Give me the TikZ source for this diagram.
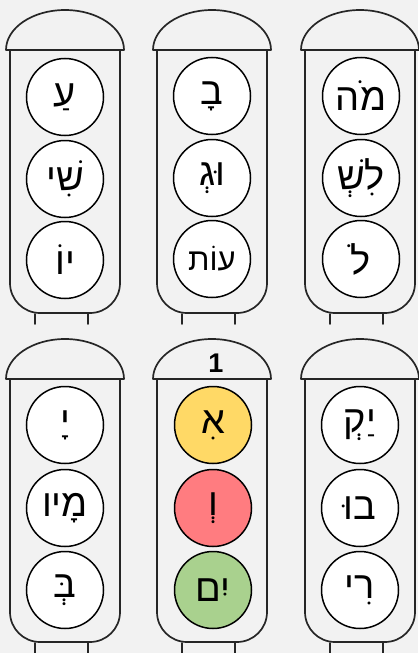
\documentclass[tikz,border=0pt]{standalone}
\usepackage{fontspec}
\setmainfont{Liberation Sans}
\newfontfamily\heb[Script=Hebrew]{Liberation Sans}
\TeXXeTstate=1
\definecolor{bgc}{RGB}{242,242,242}
\definecolor{lampyellow}{RGB}{255,217,102}
\definecolor{lampred}{RGB}{255,124,128}
\definecolor{lampgreen}{RGB}{169,209,142}
\tikzset{
  housing/.style={draw=black!85, line width=1.7pt, line join=round, line cap=round},
  lamp/.style={circle, draw=black, line width=1.5pt, fill=white, minimum size=77pt, inner sep=0pt,
     font=\heb\fontsize{38}{44}\selectfont},
  smalltext/.style={font=\heb\fontsize{31}{36}\selectfont},
  numlabel/.style={font=\bfseries\fontsize{27}{30}\selectfont, inner sep=0pt}
}
\newcommand\mylight[3]{% #1 cx, #2 dy, #3 pole bottom
  \draw[housing, rounded corners=30pt] (#1-55,50+#2) -- (#1-55,313+#2) -- (#1+55,313+#2) -- (#1+55,50+#2);
  \draw[housing] (#1-59,50+#2) arc[start angle=180, end angle=360, x radius=59, y radius=40] -- cycle;
  \draw[housing] (#1-30,314+#2) -- (#1-30,#3);
  \draw[housing] (#1+23,314+#2) -- (#1+23,#3);
}
\begin{document}
\begin{tikzpicture}[x=1pt,y=-1pt]
\fill[bgc] (0,0) rectangle (418,653);
\useasboundingbox (0,0) rectangle (418,653);
% housings
\mylight{65}{0}{324}
\mylight{212}{0}{324}
\mylight{360}{0}{324}
\mylight{65}{329}{656}
\mylight{212}{329}{656}
\mylight{360}{329}{656}
% top-left
\node[lamp] (tl1) at (65,97) {\beginR עַ\endR};
\node[lamp] (tl2) at (65,179) {\beginR שִׁי\endR};
\node[lamp] (tl3) at (65,260) {\beginR יוֹ\endR};
% top-middle
\node[lamp] (tm1) at (212,96) {\beginR בָ\endR};
\node[lamp] (tm2) at (212,178) {\beginR וּגְ\endR};
\node[lamp, smalltext] (tm3) at (212,259) {\beginR עוֹת\endR};
% top-right
\node[lamp] (tr1) at (361,96) {\beginR מֹה\endR};
\node[lamp] (tr2) at (361,178) {\beginR לִשְׁ\endR};
\node[lamp] (tr3) at (361,259) {\beginR לֹ\endR};
% bottom-left
\node[lamp] (bl1) at (65,425) {\beginR יָ\endR};
\node[lamp] (bl2) at (65,508) {\beginR מָיו\endR};
\node[lamp] (bl3) at (65,590) {\beginR בְּ\endR};
% bottom-middle
\node[numlabel] (one) at (216,363) {1};
\node[lamp, fill=lampyellow] (bm1) at (213,425) {\beginR אִ\endR};
\node[lamp, fill=lampred] (bm2) at (213,508) {\beginR וְ\endR};
\node[lamp, fill=lampgreen] (bm3) at (213,590) {\beginR יִם\endR};
% bottom-right
\node[lamp] (br1) at (360,425) {\beginR יַקְ\endR};
\node[lamp] (br2) at (360,508) {\beginR בוּ\endR};
\node[lamp] (br3) at (360,590) {\beginR רִי\endR};
\end{tikzpicture}
\end{document}
